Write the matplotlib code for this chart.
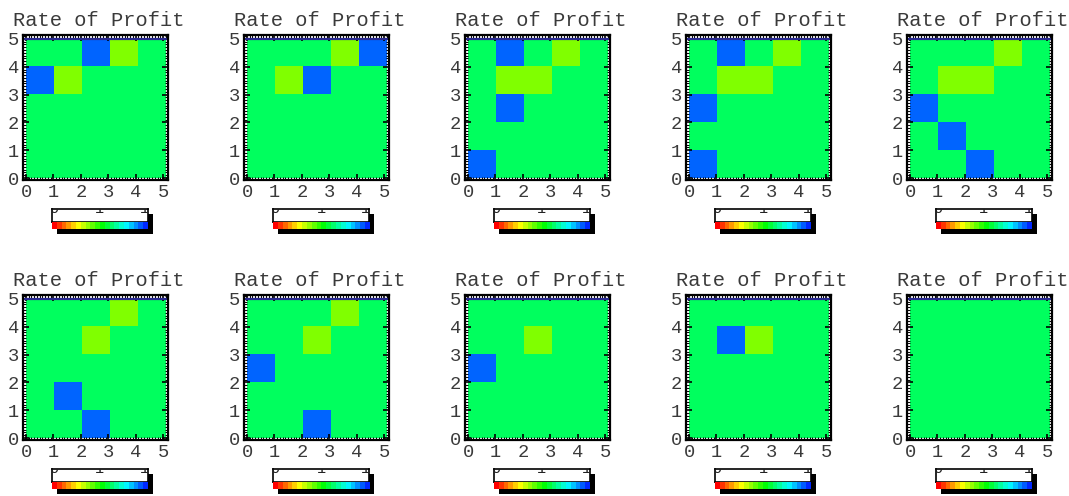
import colorsys
import numpy as np
import matplotlib
matplotlib.use("Agg")
import matplotlib.pyplot as plt
from matplotlib.colors import ListedColormap
from matplotlib.patches import Rectangle
from matplotlib.ticker import MultipleLocator

W, H = 1069, 496

# cells (column, row) per panel, left-to-right then second row
blue_cells = [
    [(2, 4), (0, 3)],
    [(4, 4), (2, 3)],
    [(1, 4), (1, 2), (0, 0)],
    [(1, 4), (0, 2), (0, 0)],
    [(0, 2), (1, 1), (2, 0)],
    [(1, 1), (2, 0)],
    [(0, 2), (2, 0)],
    [(0, 2)],
    [(1, 3)],
    [],
]
lime_cells = [
    [(3, 4), (1, 3)],
    [(3, 4), (1, 3)],
    [(3, 4), (1, 3), (2, 3)],
    [(3, 4), (1, 3), (2, 3)],
    [(3, 4), (1, 3), (2, 3)],
    [(3, 4), (2, 3)],
    [(3, 4), (2, 3)],
    [(2, 3)],
    [(2, 3)],
    [],
]
ticks = [0, 1, 2, 3, 4, 5]
title = "Rate of Profit"

cmap = ListedColormap(["#00ff5e", "#0064ff", "#80ff00"])
mono = "Liberation Mono"

fig = plt.figure(figsize=(W / 100, H / 100), dpi=100)


def px_axes(x0, y0, w, h):
    return fig.add_axes([x0 / W, 1 - (y0 + h) / H, w / W, h / H])


for k in range(10):
    row, col = divmod(k, 5)
    ox = 221 * col
    oy = 260 * row

    grid = np.zeros((5, 5))
    for c, r in blue_cells[k]:
        grid[r, c] = 1
    for c, r in lime_cells[k]:
        grid[r, c] = 2

    ax = px_axes(23 + ox, 35 + oy, 145, 145)
    ax.set_facecolor("#f4f4f4")
    ax.imshow(grid, cmap=cmap, vmin=0, vmax=2, origin="lower",
              extent=(0, 5.1, 0, 5), interpolation="nearest", aspect="auto")
    ax.axhline(5, color="#2a2a90", lw=1.6)
    ax.set_xlim(-0.11, 5.18)
    ax.set_ylim(-0.07, 5.14)
    ax.set_xticks(ticks)
    ax.set_yticks(ticks)
    ax.xaxis.set_minor_locator(MultipleLocator(0.1))
    ax.yaxis.set_minor_locator(MultipleLocator(0.1))
    ax.tick_params(which="major", direction="in", length=4, width=1.2,
                   top=True, right=True, pad=3, labelsize=13.5)
    ax.tick_params(which="minor", direction="in", length=2, width=0.7,
                   top=True, right=True)
    for lab in ax.get_xticklabels() + ax.get_yticklabels():
        lab.set_fontfamily(mono)
        lab.set_color("#3a3a3a")
    for sp in ax.spines.values():
        sp.set_linewidth(1.6)

    fig.text((13 + ox) / W, 1 - (26 + oy) / H, title, family=mono,
             fontsize=14.7, color="#3a3a3a", va="baseline", ha="left")

    # colour legend with drop shadow
    sh = px_axes(57 + ox, 214 + oy, 96, 20)
    sh.add_patch(Rectangle((0, 0), 1, 1, color="black"))
    sh.set_axis_off()

    box = px_axes(52 + ox, 209 + oy, 96, 13)
    box.set_xlim(0, 1)
    box.set_ylim(0, 1)
    box.set_xticks([])
    box.set_yticks([])
    box.set_facecolor("white")
    for sp in box.spines.values():
        sp.set_linewidth(1.2)
    for xv, s in [(0.02, "0"), (0.5, "1"), (0.96, "1")]:
        box.text(xv, 0.45, s, family=mono, fontsize=11, ha="center",
                 va="bottom", clip_on=True, color="#222222")

    hues = np.linspace(0, 0.64, 20)
    strip = px_axes(52 + ox, 222 + oy, 96, 7)
    strip.imshow([[colorsys.hsv_to_rgb(h, 1, 1) for h in hues]],
                 aspect="auto", interpolation="nearest")
    strip.set_axis_off()

fig.savefig("out.png", dpi=100, facecolor="white")
